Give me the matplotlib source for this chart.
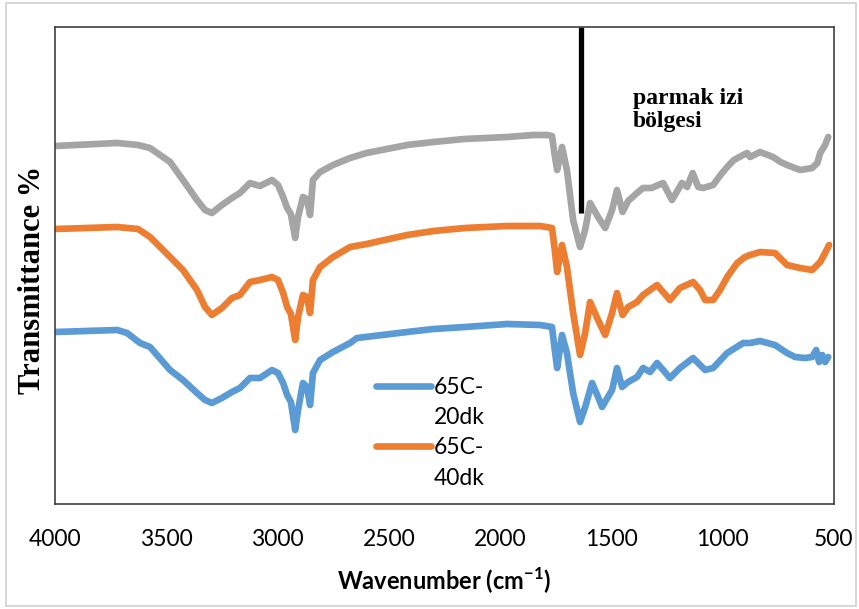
import matplotlib
matplotlib.use("Agg")
import matplotlib.pyplot as plt
from matplotlib.lines import Line2D
from matplotlib.patches import Rectangle

# ---------------- data ----------------
wn_gray = [4000, 3720, 3627, 3573, 3483, 3425, 3362, 3326, 3295, 3250, 3205, 3169,
           3124, 3079, 3025, 2998, 2975, 2957, 2940, 2921, 2908, 2886, 2868, 2854,
           2841, 2809, 2751, 2674, 2600, 2418, 2300, 2160, 1969, 1850, 1789, 1767,
           1755, 1744, 1722, 1700, 1672, 1641, 1618, 1596, 1560, 1528, 1497, 1475,
           1450, 1425, 1385, 1358, 1320, 1268, 1228, 1183, 1160, 1135, 1110, 1088,
           1043, 1010, 980, 950, 908, 890, 877, 832, 774, 740, 711, 652, 598, 575,
           562, 540, 526]
t_gray = [71.6, 72.2, 71.8, 71.2, 68.4, 64.8, 60.8, 58.8, 58.2, 59.8, 61.2, 62.2,
          64.2, 63.6, 64.8, 63.8, 61.4, 59.2, 58.0, 53.2, 57.4, 61.4, 61.0, 57.8,
          64.8, 66.4, 67.8, 69.2, 70.2, 71.8, 72.4, 73.0, 73.4, 73.8, 73.8, 73.6,
          69.8, 66.8, 71.4, 66.8, 56.8, 51.4, 54.8, 60.2, 57.4, 55.2, 58.8, 62.8,
          58.4, 60.6, 62.2, 63.2, 63.2, 64.2, 60.8, 64.2, 63.4, 66.2, 63.4, 63.2,
          63.8, 65.8, 67.4, 68.8, 69.8, 70.2, 69.4, 70.4, 69.4, 68.4, 67.8, 66.8,
          67.2, 68.2, 70.2, 71.8, 73.4]

wn_orange = [4000, 3720, 3627, 3573, 3483, 3425, 3362, 3326, 3295, 3250, 3205, 3169,
             3124, 3079, 3025, 2998, 2975, 2957, 2940, 2921, 2908, 2886, 2868, 2854,
             2841, 2809, 2751, 2674, 2600, 2418, 2300, 2158, 1969, 1821, 1767, 1755,
             1744, 1722, 1700, 1672, 1641, 1618, 1596, 1560, 1528, 1497, 1475, 1450,
             1425, 1385, 1358, 1295, 1237, 1192, 1133, 1102, 1079, 1043, 1012, 980,
             935, 900, 877, 832, 765, 711, 652, 598, 562, 540, 522]
t_orange = [55.0, 55.4, 55.0, 53.4, 49.4, 46.8, 42.8, 39.4, 37.8, 39.2, 41.2, 41.8,
            44.4, 44.8, 45.4, 44.8, 42.2, 39.4, 38.0, 32.8, 37.4, 41.8, 41.4, 38.2,
            44.8, 47.4, 49.4, 51.4, 52.0, 53.8, 54.6, 55.2, 55.6, 55.6, 55.2, 51.0,
            46.4, 51.8, 47.4, 38.2, 29.8, 34.2, 40.4, 36.8, 33.8, 38.2, 42.2, 37.8,
            39.4, 40.4, 41.8, 43.8, 40.8, 43.2, 44.4, 42.8, 40.8, 40.8, 42.8, 45.4,
            48.2, 49.4, 49.8, 50.4, 50.2, 47.8, 47.2, 46.8, 48.4, 50.2, 51.8]

wn_blue = [4000, 3720, 3676, 3618, 3573, 3483, 3425, 3362, 3326, 3295, 3250, 3205,
           3169, 3124, 3079, 3025, 2998, 2975, 2957, 2940, 2921, 2908, 2886, 2868,
           2854, 2841, 2809, 2751, 2674, 2643, 2418, 2300, 2158, 1969, 1821, 1767,
           1755, 1744, 1722, 1700, 1672, 1641, 1618, 1587, 1560, 1542, 1497, 1475,
           1452, 1425, 1385, 1358, 1326, 1295, 1237, 1192, 1133, 1079, 1043, 980,
           908, 877, 832, 765, 711, 675, 630, 598, 580, 567, 553, 540, 526]
t_blue = [34.4, 34.8, 34.2, 32.2, 31.4, 26.8, 24.8, 22.2, 20.8, 20.2, 21.2, 22.4,
          23.2, 25.2, 25.2, 26.8, 26.2, 24.2, 21.8, 20.4, 14.8, 18.8, 24.2, 23.4,
          19.8, 26.2, 28.8, 30.4, 32.2, 33.2, 34.4, 35.0, 35.4, 36.0, 35.8, 35.4,
          31.0, 27.2, 33.8, 30.2, 22.2, 16.4, 19.4, 24.2, 21.4, 19.4, 22.8, 27.2,
          23.4, 24.4, 25.4, 27.2, 26.4, 28.2, 25.2, 27.2, 29.2, 26.8, 27.2, 30.2,
          32.2, 32.2, 32.6, 31.8, 30.2, 29.4, 29.2, 29.4, 30.8, 28.4, 29.8, 28.4,
          29.4]

legend_labels = ["65C-20dk", "65C-40dk"]
x_ticks = [4000, 3500, 3000, 2500, 2000, 1500, 1000, 500]
marker_wn = 1636          # fingerprint-region boundary line
marker_bottom = 58.2
note_text = "parmak izi\nbölgesi"
note_wn, note_t = 1403, 83.2

# ---------------- styling ----------------
C_GRAY, C_ORANGE, C_BLUE = "#A5A5A5", "#ED7D31", "#5B9BD5"
LW = 4.8
Y_MIN, Y_MAX = 0, 95.4

fig = plt.figure(figsize=(8.59, 6.09), dpi=100)
ax = fig.add_axes([55 / 859, 105 / 609, 779 / 859, 477 / 609])

kw = dict(lw=LW, solid_capstyle="round", solid_joinstyle="round")
ax.plot(wn_gray, t_gray, color=C_GRAY, **kw)
ax.plot(wn_orange, t_orange, color=C_ORANGE, **kw)
ax.plot(wn_blue, t_blue, color=C_BLUE, **kw)

ax.plot([marker_wn, marker_wn], [marker_bottom, Y_MAX], color="black", lw=3.8,
        solid_capstyle="butt", clip_on=False)
ax.text(note_wn, note_t, note_text, family="Liberation Serif", weight="bold",
        fontsize=17, ha="left", va="top", linespacing=1.1)

ax.set_xlim(4000, 500)
ax.set_ylim(Y_MIN, Y_MAX)
ax.set_xticks(x_ticks)
ax.set_xticklabels([str(t) for t in x_ticks], family="Lato", fontsize=16.5)
ax.set_yticks([])
ax.tick_params(axis="x", length=0, pad=18)

for s in ax.spines.values():
    s.set_color("#404040")
    s.set_linewidth(1.2)

plt.rcParams["mathtext.fontset"] = "custom"
plt.rcParams["mathtext.rm"] = "Lato"
plt.rcParams["mathtext.bf"] = "Lato:bold"
ax.set_xlabel(r"Wavenumber (cm$^{\mathregular{-1}}$)", family="Lato",
              weight="bold", fontsize=17, labelpad=11)
ax.set_ylabel("Transmittance %", family="Liberation Serif", weight="bold",
              fontsize=22)
ax.yaxis.set_label_coords(-0.010, 0.47)

# legend: each label wrapped over two rows, handle on the first row
lab1 = legend_labels[0].split("-")
lab2 = legend_labels[1].split("-")
handles = [Line2D([], [], color=C_BLUE, lw=LW, solid_capstyle="round"),
           Line2D([], [], color="none"),
           Line2D([], [], color=C_ORANGE, lw=LW, solid_capstyle="round"),
           Line2D([], [], color="none")]
labels = [lab1[0] + "-", lab1[1], lab2[0] + "-", lab2[1]]
ax.legend(handles, labels, loc="upper left", bbox_to_anchor=(0.397, 0.29),
          frameon=False, prop={"family": "Lato", "size": 16.5},
          handlelength=2.4, handletextpad=0.12, labelspacing=0.4, borderpad=0)

fig.patches.append(Rectangle((6 / 859, 3 / 609), 850 / 859, 603 / 609,
                             transform=fig.transFigure, fill=False,
                             edgecolor="#D0D0D0", lw=1.2))

fig.savefig("out.png", dpi=100)
